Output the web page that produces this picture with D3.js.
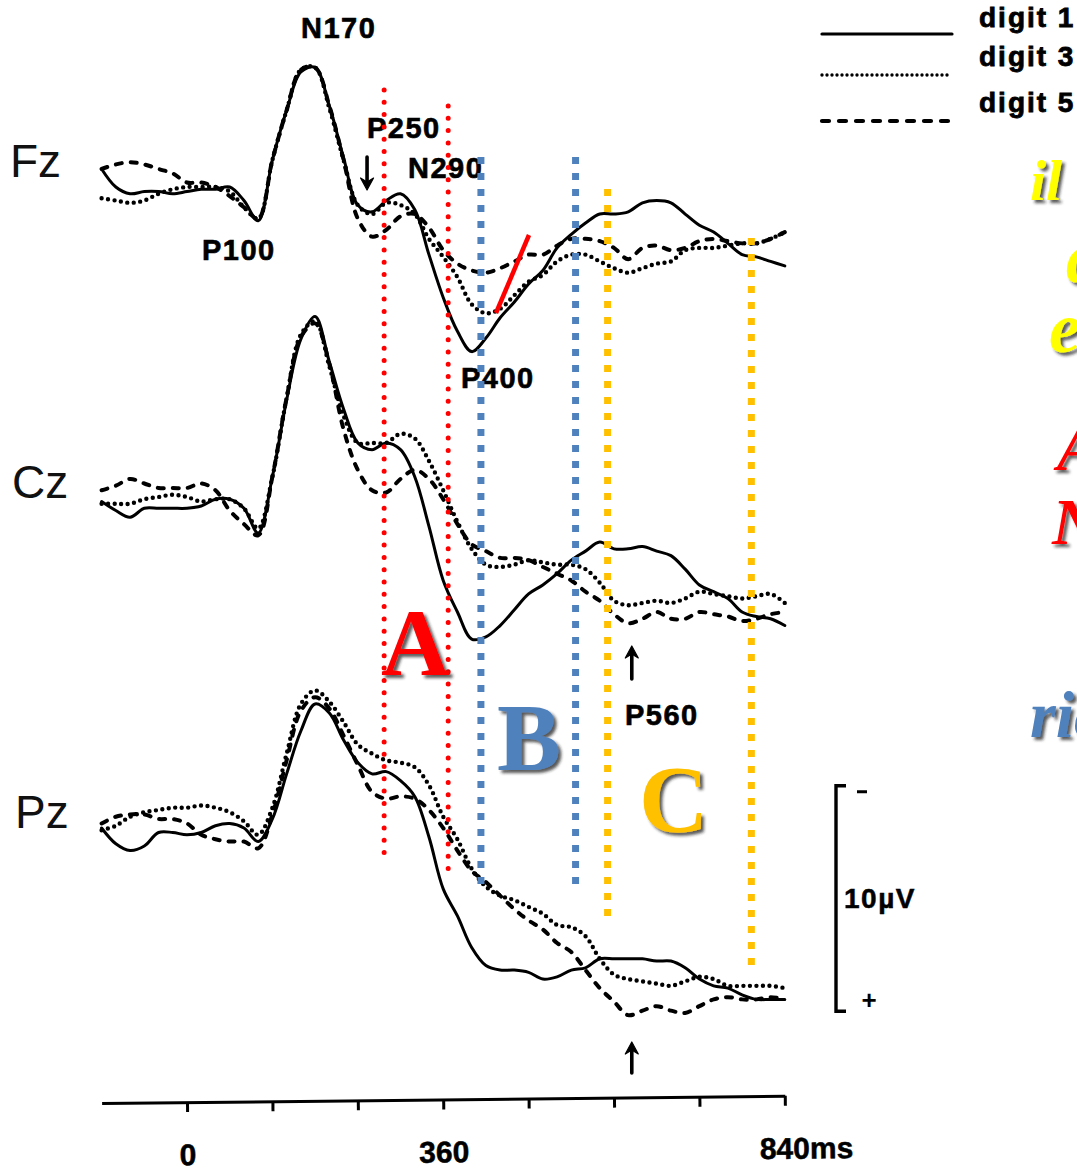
<!DOCTYPE html>
<html>
<head>
<meta charset="utf-8">
<script src="https://cdn.jsdelivr.net/npm/d3@7"></script>
<style>
  html, body { margin: 0; padding: 0; background: #fff; }
  svg { display: block; }
</style>
</head>
<body>
<svg id="chart" width="1077" height="1171"></svg>
<script>
// ---- data: grand-average ERPs (µV, negative plotted up), sampled every 20 ms ----
const times = [-120,-100,-80,-60,-40,-20,0,20,40,60,80,100,120,140,160,180,200,220,240,260,280,300,320,340,360,380,400,420,440,460,480,500,520,540,560,580,600,620,640,660,680,700,720,740,760,780,800,820,840];

const channels = ["Fz", "Cz", "Pz"];
const conditions = ["digit 1", "digit 3", "digit 5"];

const fzDigit1 = [-0.8,0,0.3,0.2,0.2,0.3,0.2,0.1,0.1,0.0,0.6,1.5,-1.2,-3.4,-5.1,-5.3,-3.6,-1.3,0.8,1.1,0.6,0.3,1.0,3.0,4.9,6.4,7.3,6.7,5.8,5.1,4.3,3.7,2.7,2.1,1.6,1.2,1.2,1.1,0.7,0.6,0.7,1.2,1.7,2.0,2.5,3.0,3.1,3.3,3.5];
const fzDigit3 = [0.5,0.6,0.7,0.6,0.3,0.1,0.0,0.0,0.0,0.2,0.9,1.4,-1.2,-3.4,-5.2,-5.3,-3.5,-1.2,0.8,1.2,0.7,0.8,1.2,2.3,3.1,4.0,5.2,5.6,5.4,4.8,4.2,3.9,3.3,3.0,3.0,3.3,3.6,3.8,3.6,3.4,3.3,2.8,2.7,2.7,2.6,2.5,2.5,2.3,2.0];
const fzDigit5 = [-0.8,-1.0,-1.1,-1.0,-0.8,-0.6,-0.2,-0.2,0.0,0.4,0.9,1.4,-1.2,-3.4,-5.2,-5.3,-3.6,-1.2,1.4,2.2,1.9,1.3,1.2,1.8,2.8,3.4,3.7,3.8,3.6,3.3,3.0,3.0,2.6,2.3,2.3,2.4,2.7,3.2,2.7,2.6,2.8,2.7,2.4,2.3,2.4,2.5,2.5,2.3,2.0];

const czDigit1 = [0.2,0.6,0.9,0.5,0.5,0.5,0.5,0.4,0.1,0.1,0.5,1.6,-0.9,-4.3,-7.0,-8.0,-6.0,-3.9,-2.4,-2.1,-2.4,-2.1,-0.9,1.3,3.7,5.1,6.3,6.2,5.7,5.0,4.3,3.9,3.4,2.8,2.4,2.0,2.3,2.3,2.2,2.4,2.6,3.2,3.9,4.2,4.5,5.1,5.3,5.4,5.7];
const czDigit3 = [0.3,0.3,0.3,0.1,0.0,-0.1,0.0,0.2,0.1,0.1,0.5,1.4,-0.9,-4.4,-7.2,-7.8,-5.8,-3.6,-2.4,-2.4,-2.4,-2.8,-2.6,-1.6,-0.3,1.1,2.3,3.0,3.1,3.0,2.8,2.9,3.0,3.0,3.2,3.8,4.6,4.8,4.7,4.6,4.7,4.5,4.2,4.3,4.4,4.5,4.4,4.3,4.7];
const czDigit5 = [-0.3,-0.5,-0.8,-0.6,-0.4,-0.4,-0.4,-0.6,-0.3,0.6,1.2,1.7,-0.9,-4.4,-7.1,-7.7,-5.9,-3.0,-1.2,-0.3,-0.2,-0.8,-1.2,-0.8,0.1,1.2,2.1,2.4,2.7,2.7,2.8,3.1,3.4,3.7,4.2,4.6,5.2,5.6,5.4,5.1,5.4,5.4,5.1,5.2,5.3,5.5,5.4,5.2,5.1];

const pzDigit1 = [0.0,0.7,1.0,0.8,0.2,0.2,0.3,0.2,-0.1,-0.2,0.0,0.6,-0.4,-2.4,-4.3,-5.5,-5.1,-3.9,-2.9,-2.4,-2.5,-2.1,-1.4,0.4,2.7,3.9,5.3,6.1,6.3,6.3,6.4,6.7,6.6,6.3,6.2,5.8,5.8,5.8,5.8,5.9,5.9,6.2,6.7,7.0,7.1,7.4,7.6,7.6,7.6];
const pzDigit3 = [0.1,-0.1,-0.5,-0.7,-0.8,-0.9,-0.9,-1.0,-0.9,-0.7,-0.3,0.3,-0.9,-3.3,-5.5,-6.1,-5.6,-4.7,-3.7,-3.3,-3.0,-2.9,-2.7,-1.9,-0.5,0.5,1.8,2.6,3.0,3.2,3.5,3.8,4.3,4.4,4.8,5.8,6.5,6.7,6.8,6.9,7.0,6.8,6.6,6.7,7.0,7.0,7.0,7.0,7.1];
const pzDigit5 = [-0.2,-0.5,-0.6,-0.6,-0.4,-0.4,-0.2,0.3,0.5,0.6,0.6,0.9,-0.6,-3.0,-5.2,-5.8,-5.3,-4.1,-2.8,-1.6,-1.3,-1.4,-1.3,-0.8,0.0,1.0,1.9,2.4,3.0,3.6,4.1,4.5,5.1,5.5,6.3,7.1,7.7,8.3,8.1,7.9,8.1,8.2,7.9,7.6,7.5,7.6,7.6,7.5,7.6];

// analysis windows (ms): A, B, C
const windowNames = ["A", "B", "C"];
const windowBounds = [[277, 367], [413, 546], [591, 793]];

const peakLabels = ["N170", "P100", "P250", "N290", "P400", "P560"];
const axisTicks = [0, 120, 240, 360, 480, 600, 720, 840];
const axisLabels = {0: "0", 360: "360", 840: "840ms"};
const scaleBarValue = 10; // µV
const sideWords = ["il", "d", "ef", "A", "N", "ric"];

// ---- layout ----
const svg = d3.select("#chart");
svg.append("rect").attr("width", 1077).attr("height", 1171).attr("fill", "#fff");

const defs = svg.append("defs");
const shadow = defs.append("filter").attr("id", "shadow")
  .attr("x", "-20%").attr("y", "-20%").attr("width", "150%").attr("height", "150%");
shadow.append("feDropShadow").attr("dx", 3).attr("dy", 3).attr("stdDeviation", 1.6)
  .attr("flood-color", "#222").attr("flood-opacity", 0.75);

const x = d3.scaleLinear().domain([-120, 840]).range([101.6, 784.8]);
const pxPerMicrovolt = 22.55;
const baselines = {Fz: 187, Cz: 497, Pz: 828};
const yFor = ch => d3.scaleLinear().domain([0, 10]).range([baselines[ch], baselines[ch] + 10 * pxPerMicrovolt]);

const seriesByChannel = {
  Fz: [fzDigit1, fzDigit3, fzDigit5],
  Cz: [czDigit1, czDigit3, czDigit5],
  Pz: [pzDigit1, pzDigit3, pzDigit5]
};

const lineStyles = [
  {width: 3, dash: null, cap: "round"},
  {width: 4.4, dash: "0 6.5", cap: "round"},
  {width: 4, dash: "6 9", cap: "round"}
];

// ---- waveforms ----
const traces = svg.append("g").attr("class", "traces");
channels.forEach(ch => {
  const y = yFor(ch);
  const line = d3.line()
    .x((d, i) => x(times[i]))
    .y(d => y(d))
    .curve(d3.curveCatmullRom.alpha(0.5));
  seriesByChannel[ch].forEach((vals, k) => {
    const st = lineStyles[k];
    traces.append("path")
      .datum(vals)
      .attr("d", line)
      .attr("fill", "none")
      .attr("stroke", "#000")
      .attr("stroke-width", st.width)
      .attr("stroke-linecap", st.cap)
      .attr("stroke-linejoin", "round")
      .attr("stroke-dasharray", st.dash);
  });
});

// ---- channel names ----
const chPos = {Fz: [10, 177], Cz: [12, 498], Pz: [15, 828]};
channels.forEach(ch => {
  svg.append("text").attr("x", chPos[ch][0]).attr("y", chPos[ch][1])
    .attr("font-family", "Liberation Sans, Arial, sans-serif")
    .attr("font-size", 46).attr("fill", "#111").text(ch);
});

// ---- component labels ----
const peakPos = [[301, 38], [202, 260], [367, 138], [408, 178], [461, 388], [625, 725]];
peakLabels.forEach((lab, i) => {
  svg.append("text").attr("x", peakPos[i][0]).attr("y", peakPos[i][1])
    .attr("font-family", "Liberation Sans, Arial, sans-serif")
    .attr("font-weight", "bold").attr("font-size", 29)
    .attr("letter-spacing", 1.5).attr("fill", "#000")
    .attr("stroke", "#000").attr("stroke-width", 0.6).text(lab);
});

// ---- arrows ----
function arrow(xp, y1, y2) {
  // y1 = tail, y2 = head
  const dir = y2 > y1 ? 1 : -1;
  svg.append("line").attr("x1", xp).attr("x2", xp).attr("y1", y1).attr("y2", y2 - dir * 8)
    .attr("stroke", "#000").attr("stroke-width", 3.6).attr("stroke-linecap", "round");
  svg.append("path")
    .attr("d", `M${xp - 6.5},${y2 - dir * 12} L${xp},${y2} L${xp + 6.5},${y2 - dir * 12} L${xp},${y2 - dir * 8} Z`)
    .attr("fill", "#000").attr("stroke", "#000").attr("stroke-width", 1.2)
    .attr("stroke-linejoin", "round");
}
arrow(x(253), 157, 190);
arrow(x(625), 679, 646);
arrow(x(625), 1073, 1042);

// ---- time axis (slightly tilted, as printed) ----
const axis = d3.axisBottom(x)
  .tickValues(axisTicks)
  .tickSize(10)
  .tickSizeOuter(0)
  .tickFormat(d => axisLabels[d] || "");
const axisY = 1103;
const gAxis = svg.append("g")
  .attr("transform", `translate(0,${axisY}) rotate(-0.6, 101.6, 0)`)
  .call(axis);
gAxis.select(".domain").attr("stroke", "#000").attr("stroke-width", 3);
gAxis.selectAll(".tick line").attr("stroke", "#000").attr("stroke-width", 3);
gAxis.selectAll(".tick text")
  .attr("y", 63).attr("dy", 0)
  .attr("font-family", "Liberation Sans, Arial, sans-serif")
  .attr("font-weight", "bold").attr("font-size", 30).attr("fill", "#000")
  .attr("stroke", "#000").attr("stroke-width", 0.5)
  .attr("text-anchor", d => d === 840 ? "start" : "middle")
  .attr("dx", d => d === 840 ? -26 : 0);

// ---- amplitude scale bar ----
const barH = scaleBarValue * pxPerMicrovolt;
const barTop = 898.5 - barH / 2, barBot = 898.5 + barH / 2, barX = 836;
svg.append("path")
  .attr("d", `M${barX + 10},${barTop} L${barX},${barTop} L${barX},${barBot} L${barX + 10},${barBot}`)
  .attr("fill", "none").attr("stroke", "#000").attr("stroke-width", 3.4);
svg.append("line").attr("x1", 857).attr("x2", 867).attr("y1", barTop + 6).attr("y2", barTop + 6)
  .attr("stroke", "#000").attr("stroke-width", 3);
svg.append("text").attr("x", 869).attr("y", barBot - 2).attr("text-anchor", "middle")
  .attr("font-family", "Liberation Sans, Arial, sans-serif").attr("font-weight", "bold")
  .attr("font-size", 26).text("+");
svg.append("text").attr("x", 844).attr("y", 908)
  .attr("font-family", "Liberation Sans, Arial, sans-serif").attr("font-weight", "bold")
  .attr("font-size", 28).attr("letter-spacing", 1.5)
  .attr("stroke", "#000").attr("stroke-width", 0.5).text(scaleBarValue + "\u00b5V");

// ---- legend ----
const legY = [34, 75, 121];
const legendStyles = [
  {width: 3.2, dash: null},
  {width: 3.4, dash: "0 5"},
  {width: 4.2, dash: "7 10"}
];
const legTextY = [27, 66, 112];
conditions.forEach((c, i) => {
  svg.append("line").attr("x1", 822).attr("x2", 952).attr("y1", legY[i]).attr("y2", legY[i])
    .attr("stroke", "#000").attr("stroke-width", legendStyles[i].width)
    .attr("stroke-linecap", "round").attr("stroke-dasharray", legendStyles[i].dash);
  svg.append("text").attr("x", 979).attr("y", legTextY[i])
    .attr("font-family", "Liberation Sans, Arial, sans-serif").attr("font-weight", "bold")
    .attr("font-size", 28).attr("letter-spacing", 2)
    .attr("stroke", "#000").attr("stroke-width", 0.8).text(c);
});

// ---- analysis window boundaries ----
const boundaryStyle = [
  {color: "#ff0000", width: 5, dash: "0 12.3", cap: "round", ext: [[90, 855], [106, 870]]},
  {color: "#4f81bd", width: 7, dash: "7 9", cap: "butt", ext: [[157, 884], [157, 884]]},
  {color: "#ffc000", width: 7, dash: "7 9", cap: "butt", ext: [[189, 916], [238, 965]]}
];
windowBounds.forEach((pair, w) => {
  const st = boundaryStyle[w];
  pair.forEach((t, j) => {
    svg.append("line")
      .attr("x1", x(t)).attr("x2", x(t))
      .attr("y1", st.ext[j][0]).attr("y2", st.ext[j][1])
      .attr("stroke", st.color).attr("stroke-width", st.width)
      .attr("stroke-dasharray", st.dash).attr("stroke-linecap", st.cap);
  });
});

// red slash marking the P400 slope difference
svg.append("line").attr("x1", 496).attr("y1", 313).attr("x2", 529).attr("y2", 235)
  .attr("stroke", "#ff0000").attr("stroke-width", 4.5);

// ---- window letters ----
const letterColors = ["#ff0000", "#4f81bd", "#ffc000"];
const letterPos = [[381, 675], [497, 770], [639, 832]];
windowNames.forEach((n, i) => {
  svg.append("text").attr("x", letterPos[i][0]).attr("y", letterPos[i][1])
    .attr("font-family", "Liberation Serif, Times New Roman, serif")
    .attr("font-weight", "bold").attr("font-size", 96)
    .attr("fill", letterColors[i]).attr("filter", "url(#shadow)").text(n);
});

// ---- side notes running off the right edge ----
const sideStyle = [
  {x: 1030, y: 200, size: 58, color: "#ffff00"},
  {x: 1066, y: 282, size: 72, color: "#ffff00"},
  {x: 1049, y: 352, size: 72, color: "#ffff00"},
  {x: 1057, y: 470, size: 66, color: "#ff0000"},
  {x: 1052, y: 544, size: 66, color: "#ff0000"},
  {x: 1030, y: 737, size: 66, color: "#4f81bd"}
];
sideWords.forEach((w, i) => {
  const s = sideStyle[i];
  svg.append("text").attr("x", s.x).attr("y", s.y)
    .attr("font-family", "Liberation Serif, Times New Roman, serif")
    .attr("font-weight", "bold").attr("font-style", "italic")
    .attr("font-size", s.size).attr("fill", s.color)
    .attr("filter", "url(#shadow)").text(w);
});
</script>
</body>
</html>
